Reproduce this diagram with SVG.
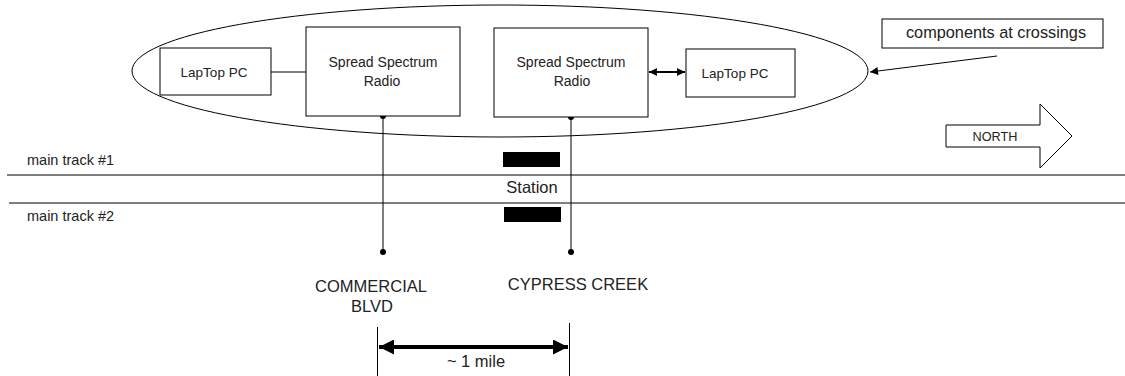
<svg xmlns="http://www.w3.org/2000/svg" width="1125" height="376" viewBox="0 0 1125 376">
  <style>
    .ln { fill: none; stroke: #000; stroke-width: 1; }
    .box { fill: #fff; stroke: #000; stroke-width: 1; }
    .t { font-family: "Liberation Sans", Arial, sans-serif; fill: #222; }
    .c { text-anchor: middle; }
  </style>
  <defs>
    <marker id="smallHead" viewBox="0 0 10 10" refX="10" refY="5" markerWidth="8" markerHeight="8" markerUnits="userSpaceOnUse" orient="auto-start-reverse">
      <path d="M0,0 L10,5 L0,10 z" fill="#000"/>
    </marker>
    <marker id="leaderHead" viewBox="0 0 10 10" refX="10" refY="5" markerWidth="13" markerHeight="8" markerUnits="userSpaceOnUse" orient="auto">
      <path d="M0,0 L10,5 L0,10 z" fill="#000"/>
    </marker>
    <marker id="bigHead" viewBox="0 0 10 10" refX="10" refY="5" markerWidth="24" markerHeight="15" markerUnits="userSpaceOnUse" orient="auto-start-reverse">
      <path d="M0,0 L10,5 L0,10 z" fill="#000"/>
    </marker>
    <marker id="dot" viewBox="0 0 10 10" refX="5" refY="5" markerWidth="6" markerHeight="6" markerUnits="userSpaceOnUse">
      <circle cx="5" cy="5" r="5" fill="#000"/>
    </marker>
  </defs>
  <rect width="1125" height="376" fill="#fff"/>

  <!-- crossing components enclosure -->
  <ellipse id="crossing-group" cx="500" cy="71" rx="368" ry="66" class="ln"/>

  <!-- tracks -->
  <g id="tracks">
    <line x1="7" y1="175" x2="1125" y2="175" class="ln"/>
    <line x1="9" y1="203" x2="1125" y2="203" class="ln"/>
    <text x="27" y="165" class="t" font-size="14.5">main track #1</text>
    <text x="27" y="221" class="t" font-size="14.5">main track #2</text>
  </g>

  <!-- station platforms -->
  <g id="station">
    <rect x="503" y="152" width="57" height="15" fill="#000"/>
    <rect x="504" y="207" width="57" height="15" fill="#000"/>
    <text x="532" y="193" class="t c" font-size="16.5">Station</text>
  </g>

  <g id="connectors">
    <!-- laptop to radio (south) -->
    <line x1="271" y1="72" x2="306" y2="72" class="ln"/>
    <!-- radio to laptop (north) -->
    <line x1="649" y1="72" x2="685" y2="72" fill="none" stroke="#000" stroke-width="2" marker-start="url(#smallHead)" marker-end="url(#smallHead)"/>
    <!-- radio drops to crossings -->
    <line x1="383" y1="116" x2="383" y2="252" class="ln" marker-start="url(#dot)" marker-end="url(#dot)"/>
    <line x1="571" y1="117" x2="571" y2="252" class="ln" marker-start="url(#dot)" marker-end="url(#dot)"/>
    <!-- callout leader -->
    <line x1="997" y1="56" x2="870" y2="72" class="ln" marker-end="url(#leaderHead)"/>
  </g>

  <g id="laptop-south">
    <rect x="160" y="48" width="111" height="47" class="box"/>
    <text x="214" y="77" class="t c" font-size="13.5">LapTop PC</text>
  </g>

  <g id="radio-south">
    <rect x="306" y="27" width="154" height="89" class="box"/>
    <text x="383" y="67" class="t c" font-size="14">Spread Spectrum</text>
    <text x="382" y="86" class="t c" font-size="14">Radio</text>
  </g>

  <g id="radio-north">
    <rect x="494" y="28" width="154" height="89" class="box"/>
    <text x="571" y="67" class="t c" font-size="14">Spread Spectrum</text>
    <text x="572" y="86" class="t c" font-size="14">Radio</text>
  </g>

  <g id="laptop-north">
    <rect x="686" y="49" width="109" height="48" class="box"/>
    <text x="735" y="78" class="t c" font-size="13.5">LapTop PC</text>
  </g>

  <g id="callout">
    <rect x="882" y="19" width="221" height="29" class="box"/>
    <text x="996" y="38" class="t c" font-size="16.3">components at crossings</text>
  </g>

  <g id="north-arrow">
    <path d="M946,125 H1040 V104 L1072,136 L1040,168 V147 H946 Z" class="box"/>
    <text x="995" y="141" class="t c" font-size="12.7">NORTH</text>
  </g>

  <g id="crossing-labels">
    <text x="371" y="292" class="t c" font-size="16.5">COMMERCIAL</text>
    <text x="372" y="312" class="t c" font-size="16.5">BLVD</text>
    <text x="578" y="290" class="t c" font-size="16.5">CYPRESS CREEK</text>
  </g>

  <!-- distance between crossings -->
  <g id="distance">
    <line x1="377.5" y1="327" x2="377.5" y2="376" class="ln"/>
    <line x1="569.5" y1="323" x2="569.5" y2="376" class="ln"/>
    <line x1="379" y1="347" x2="568" y2="347" fill="none" stroke="#000" stroke-width="4" marker-start="url(#bigHead)" marker-end="url(#bigHead)"/>
    <text x="476" y="367" class="t c" font-size="16.5">~ 1 mile</text>
  </g>
</svg>
